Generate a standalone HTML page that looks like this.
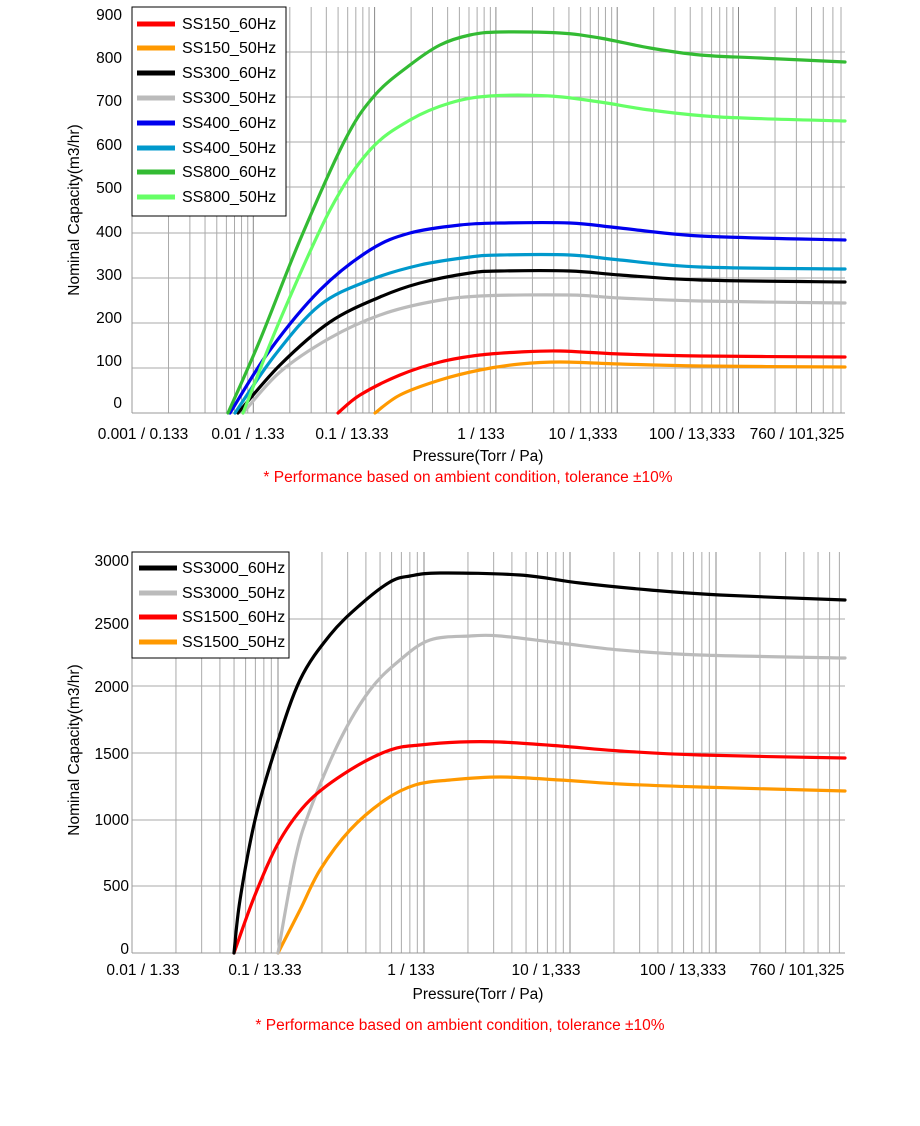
<!DOCTYPE html>
<html><head><meta charset="utf-8"><style>
html,body{margin:0;padding:0;background:#fff;}
svg{display:block;font-family:"Liberation Sans",Arial,sans-serif;}
</style></head><body>
<svg width="920" height="1126" viewBox="0 0 920 1126" xmlns="http://www.w3.org/2000/svg">
<g id="g1" stroke="#aaaaaa" stroke-width="1" fill="none"></g>
<g id="g2" stroke="#aaaaaa" stroke-width="1" fill="none"></g>
<line x1="132" y1="7" x2="132" y2="413" stroke="#999"/>
<line x1="132" y1="413" x2="845" y2="413" stroke="#999"/>
<line x1="132" y1="552" x2="132" y2="953" stroke="#999"/>
<line x1="132" y1="953" x2="845" y2="953" stroke="#999"/>
<g id="curves" fill="none" stroke-width="3.2" stroke-linejoin="round" stroke-linecap="round">
<polyline stroke="#bbbbbb" points="243,413 280,372 330,338 380,315 430,302 480,296 570,295 620,298 700,301 845,303"/>
<polyline stroke="#000" points="238,413 280,365 330,322 380,297 420,283 470,273 500,271 570,271 620,275 700,280 845,282"/>
<polyline stroke="#0099cc" points="235,413 275,355 320,305 370,280 420,265 470,257 500,255 570,255 620,260 700,267 845,269"/>
<polyline stroke="#0000ee" points="230,413 270,350 320,290 370,250 410,233 460,225 500,223 570,223 620,228 700,236 845,240"/>
<polyline stroke="#66ff66" points="243,413 280,320 330,210 370,150 410,120 450,103 490,96 550,96 600,102 650,110 720,117 845,121"/>
<polyline stroke="#33bb33" points="228,413 260,340 300,240 345,140 375,95 410,65 440,45 470,35 500,32 560,33 600,38 650,48 700,55 760,58 845,62"/>
<polyline stroke="#ff9900" points="375,413 400,395 440,380 480,370 520,364 560,362 620,364 700,366 845,367"/>
<polyline stroke="#ff0000" points="338,413 360,395 400,375 440,362 480,355 520,352 560,351 620,354 700,356 845,357"/>
<polyline stroke="#ff9900" points="278,953 300,910 320,870 350,830 385,800 415,785 450,780 500,777 560,780 620,784 700,787 845,791"/>
<polyline stroke="#bbbbbb" points="278,953 295,860 310,810 340,740 370,690 400,660 430,640 470,636 500,636 560,643 620,650 700,655 845,658"/>
<polyline stroke="#ff0000" points="234,953 255,895 280,840 310,800 350,770 390,750 420,745 460,742 500,742 560,746 620,751 700,755 845,758"/>
<polyline stroke="#000" points="234,953 240,900 255,820 275,750 300,680 330,635 360,605 390,582 410,576 440,573 520,575 580,583 650,590 720,595 845,600"/>
</g>
<rect x="132" y="7" width="154" height="209" fill="#fff" stroke="#000"/>
<g stroke-width="5">
<line x1="137" y1="24" x2="175" y2="24" stroke="#ff0000"/>
<line x1="137" y1="48" x2="175" y2="48" stroke="#ff9900"/>
<line x1="137" y1="73" x2="175" y2="73" stroke="#000"/>
<line x1="137" y1="98" x2="175" y2="98" stroke="#bbbbbb"/>
<line x1="137" y1="123" x2="175" y2="123" stroke="#0000ee"/>
<line x1="137" y1="148" x2="175" y2="148" stroke="#0099cc"/>
<line x1="137" y1="172" x2="175" y2="172" stroke="#33bb33"/>
<line x1="137" y1="197" x2="175" y2="197" stroke="#66ff66"/>
</g>
<g font-size="16" fill="#000">
<text x="182" y="29">SS150_60Hz</text>
<text x="182" y="53">SS150_50Hz</text>
<text x="182" y="78">SS300_60Hz</text>
<text x="182" y="103">SS300_50Hz</text>
<text x="182" y="128">SS400_60Hz</text>
<text x="182" y="153">SS400_50Hz</text>
<text x="182" y="177">SS800_60Hz</text>
<text x="182" y="202">SS800_50Hz</text>
</g>
<rect x="132" y="552" width="157" height="106" fill="#fff" stroke="#000"/>
<g stroke-width="5">
<line x1="139" y1="568" x2="177" y2="568" stroke="#000"/>
<line x1="139" y1="593" x2="177" y2="593" stroke="#bbbbbb"/>
<line x1="139" y1="617" x2="177" y2="617" stroke="#ff0000"/>
<line x1="139" y1="642" x2="177" y2="642" stroke="#ff9900"/>
</g>
<g font-size="16" fill="#000">
<text x="182" y="573">SS3000_60Hz</text>
<text x="182" y="598">SS3000_50Hz</text>
<text x="182" y="622">SS1500_60Hz</text>
<text x="182" y="647">SS1500_50Hz</text>
</g>
<g font-size="15.5" fill="#000" text-anchor="end">
<text x="122" y="20">900</text><text x="122" y="63">800</text><text x="122" y="106">700</text>
<text x="122" y="150">600</text><text x="122" y="193">500</text><text x="122" y="237">400</text>
<text x="122" y="280">300</text><text x="122" y="323">200</text><text x="122" y="366">100</text>
<text x="122" y="408">0</text>
<text x="129" y="566">3000</text><text x="129" y="629">2500</text><text x="129" y="692">2000</text>
<text x="129" y="759">1500</text><text x="129" y="825">1000</text><text x="129" y="891">500</text>
<text x="129" y="954">0</text>
</g>
<g font-size="15.5" fill="#000" text-anchor="middle">
<text x="143" y="439">0.001 / 0.133</text><text x="248" y="439">0.01 / 1.33</text>
<text x="352" y="439">0.1 / 13.33</text><text x="481" y="439">1 / 133</text>
<text x="583" y="439">10 / 1,333</text><text x="692" y="439">100 / 13,333</text>
<text x="797" y="439">760 / 101,325</text>
<text x="143" y="975">0.01 / 1.33</text><text x="265" y="975">0.1 / 13.33</text>
<text x="411" y="975">1 / 133</text><text x="546" y="975">10 / 1,333</text>
<text x="683" y="975">100 / 13,333</text><text x="797" y="975">760 / 101,325</text>
<text x="478" y="461">Pressure(Torr / Pa)</text>
<text x="478" y="999">Pressure(Torr / Pa)</text>
<text x="468" y="482" fill="#ff0000">* Performance based on ambient condition, tolerance ±10%</text>
<text x="460" y="1030" fill="#ff0000">* Performance based on ambient condition, tolerance ±10%</text>
<text transform="translate(79,210) rotate(-90)">Nominal Capacity(m3/hr)</text>
<text transform="translate(79,750) rotate(-90)">Nominal Capacity(m3/hr)</text>
</g>
</svg>
<script>
(function(){
var NS="http://www.w3.org/2000/svg";
function grid(g,left,right,top,bottom,dec,hy){
  for(var d=0;d<8;d++){for(var k=1;k<10;k++){
    var x=left+dec*(d+Math.log10(k)); if(x<=left+0.5||x>right+0.5)continue;
    var l=document.createElementNS(NS,"line");
    l.setAttribute("x1",x);l.setAttribute("x2",x);l.setAttribute("y1",top);l.setAttribute("y2",bottom);
    if(k==1)l.setAttribute("stroke","#888");
    g.appendChild(l);}}
  hy.forEach(function(y){var l=document.createElementNS(NS,"line");
    l.setAttribute("x1",left);l.setAttribute("x2",right);l.setAttribute("y1",y);l.setAttribute("y2",y);g.appendChild(l);});
}
grid(document.getElementById("g1"),132,845,7,413,121.3,[52,97,142,187,233,278,323,368]);
grid(document.getElementById("g2"),132,845,552,953,146,[619,686,753,820,886]);
var pls=document.querySelectorAll("#curves polyline");
for(var i=0;i<pls.length;i++){
  var pl=pls[i];
  var pts=pl.getAttribute("points").trim().split(/\s+/).map(function(s){return s.split(",").map(Number);});
  var d="M"+pts[0][0]+","+pts[0][1];
  for(var j=0;j<pts.length-1;j++){
    var p0=pts[j-1]||pts[j],p1=pts[j],p2=pts[j+1],p3=pts[j+2]||p2;
    var c1=[p1[0]+(p2[0]-p0[0])/6,p1[1]+(p2[1]-p0[1])/6];
    var c2=[p2[0]-(p3[0]-p1[0])/6,p2[1]-(p3[1]-p1[1])/6];
    d+=" C"+c1[0]+","+c1[1]+" "+c2[0]+","+c2[1]+" "+p2[0]+","+p2[1];
  }
  var p=document.createElementNS(NS,"path");
  p.setAttribute("d",d);p.setAttribute("stroke",pl.getAttribute("stroke"));
  pl.parentNode.replaceChild(p,pl);
}
})();
</script>
</body></html>
